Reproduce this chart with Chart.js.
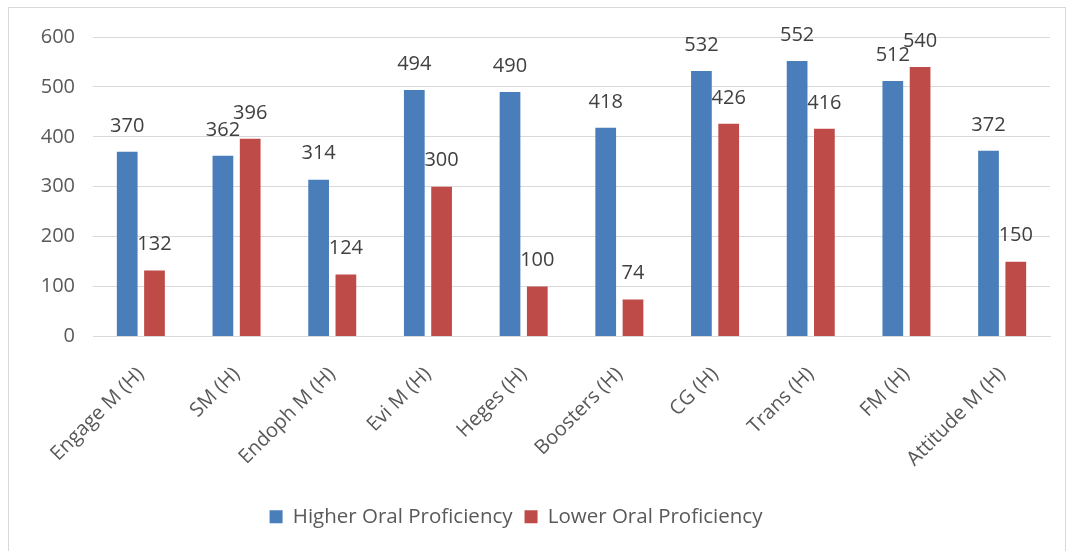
<!DOCTYPE html>
<html>
<head>
<meta charset="utf-8">
<script src="https://cdn.jsdelivr.net/npm/chart.js@4.4.1/dist/chart.umd.min.js"></script>
<style>
  html, body { margin:0; padding:0; background:#fff; }
  #wrap { position:relative; width:1068px; height:551px; overflow:hidden; }
  #frame { position:absolute; left:8px; top:7px; width:1058px; height:600px; border:1px solid #d9d9d9; box-sizing:border-box; }
  canvas { position:absolute; left:0; top:0; }
</style>
</head>
<body>
<div id="wrap">
  <div id="frame"></div>
  <canvas id="chart" width="1068" height="551"></canvas>
</div>
<script>

// ======================================================
// DATA
// ======================================================

const categories = [
    "Engage M (H)", "SM (H)", "Endoph M (H)", "Evi M (H)", "Heges (H)",
    "Boosters (H)", "CG (H)", "Trans (H)", "FM (H)", "Attitude M (H)"
];

const higherOral = [370, 362, 314, 494, 490, 418, 532, 552, 512, 372];

const lowerOral = [132, 396, 124, 300, 100, 74, 426, 416, 540, 150];

const yTicks = [0, 100, 200, 300, 400, 500, 600];

const seriesNames = ["Higher Oral Proficiency", "Lower Oral Proficiency"];

// ======================================================
// LABELS ABOVE BARS
// ======================================================

const barLabels = {

    id:"barLabels",

    afterDatasetsDraw(chart){

        const ctx = chart.ctx;

        ctx.save();

        ctx.font = "20px 'Open Sans'";
        ctx.fillStyle = "#404040";
        ctx.textAlign = "center";
        ctx.textBaseline = "bottom";

        chart.data.datasets.forEach((ds,i)=>{

            chart.getDatasetMeta(i).data.forEach((bar,j)=>{

                ctx.fillText(String(ds.data[j]), bar.x, bar.y - 16);

            });

        });

        ctx.restore();

    }

};

// shift legend to match the original
const legendShift = {

    id:"legendShift",

    afterLayout(chart){

        if(!chart.legend) return;

        chart.legend.left -= 24;
        chart.legend.right -= 24;

    }

};

// ======================================================
// CHART
// ======================================================

new Chart(document.getElementById("chart"),{

    type:"bar",

    plugins:[barLabels, legendShift],

    data:{

        labels:categories,

        datasets:[
            {
                label:seriesNames[0],
                data:higherOral,
                backgroundColor:"#4a7ebb",
                categoryPercentage:0.57,
                barPercentage:0.76
            },
            {
                label:seriesNames[1],
                data:lowerOral,
                backgroundColor:"#be4b48",
                categoryPercentage:0.57,
                barPercentage:0.76
            }
        ]

    },

    options:{

        responsive:false,

        animation:false,

        layout:{
            padding:{ left:30, right:18, top:37, bottom:14 }
        },

        plugins:{

            legend:{
                position:"bottom",
                labels:{
                    font:{ family:"'Open Sans'", size:20.5 },
                    color:"#595959",
                    boxWidth:13,
                    boxHeight:13,
                    padding:12
                }
            },

            tooltip:{ enabled:false }

        },

        scales:{

            x:{
                grid:{ display:false },
                border:{ color:"#d9d9d9" },
                ticks:{
                    color:"#595959",
                    font:{ family:"'Open Sans'", size:20 },
                    minRotation:45,
                    maxRotation:45,
                    padding:18
                },
                afterFit(scale){ scale.height = 158; }
            },

            y:{
                min:0,
                max:600,
                afterBuildTicks(scale){
                    scale.ticks = yTicks.map(v=>({ value:v }));
                },
                grid:{ color:"#d9d9d9", drawTicks:false },
                border:{ display:false },
                ticks:{
                    color:"#595959",
                    font:{ family:"'Open Sans'", size:20 },
                    padding:18
                },
                afterFit(scale){ scale.width = 63; }
            }

        }

    }

});

</script>
</body>
</html>
